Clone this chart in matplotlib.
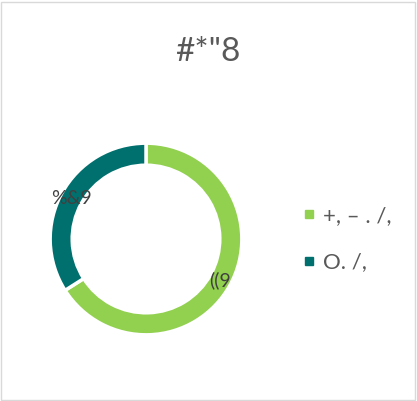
import matplotlib
matplotlib.use('Agg')
import numpy as np
from matplotlib import pyplot as plt
from matplotlib.patches import Rectangle
from matplotlib.lines import Line2D

# data
categories  = ['+, \u2013 . /,', 'O. /,']
values      = [66, 34]
value_texts = ['((9', '%&9']
title       = '#*"8'

colors = ['#92D050', '#00706E']

plt.rcParams['font.family'] = ['Lato', 'DejaVu Sans']

W, H = 417, 401
fig = plt.figure(figsize=(W/100., H/100.), dpi=100)

# chart border
fig.patches.append(Rectangle((1./W, 1./H), 1-3./W, 1-3./H, transform=fig.transFigure,
                             fill=False, edgecolor='#D9D9D9', lw=1))

# donut axes, centred at (146, 239) px from top-left
cx, cy, half = 146, 239, 115
ax = fig.add_axes([(cx-half)/W, (H-cy-half)/H, 2*half/W, 2*half/H])

width = 0.23
wedges, _ = ax.pie(values, colors=colors, startangle=90, counterclock=False,
                   radius=1., wedgeprops=dict(width=width, edgecolor='white', lw=2.5))
ax.set_xlim(-1.2, 1.2)
ax.set_ylim(-1.2, 1.2)
ax.set_aspect('equal')
ax.axis('off')

# value labels at ring middle
start = 90.
for v, txt in zip(values, value_texts):
    mid = start - v/100.*360/2
    r = 1 - width/2
    ax.text(r*np.cos(np.radians(mid)), r*np.sin(np.radians(mid)), txt,
            ha='center', va='center', fontsize=14, color='#404040')
    start -= v/100.*360

# title
fig.text(208./W, 1-52./H, title, ha='center', va='center', fontsize=24, color='#595959')

# legend
hh = [Line2D([], [], ls='', marker='s', ms=6, color=c) for c in colors]
fig.legend(hh, categories, loc='center left', bbox_to_anchor=(292./W, 1-239./H),
           frameon=False, fontsize=16, labelcolor='#595959', handlelength=0.5,
           handletextpad=0.4, labelspacing=1.2, borderpad=0)

fig.savefig('out.png', dpi=100)
